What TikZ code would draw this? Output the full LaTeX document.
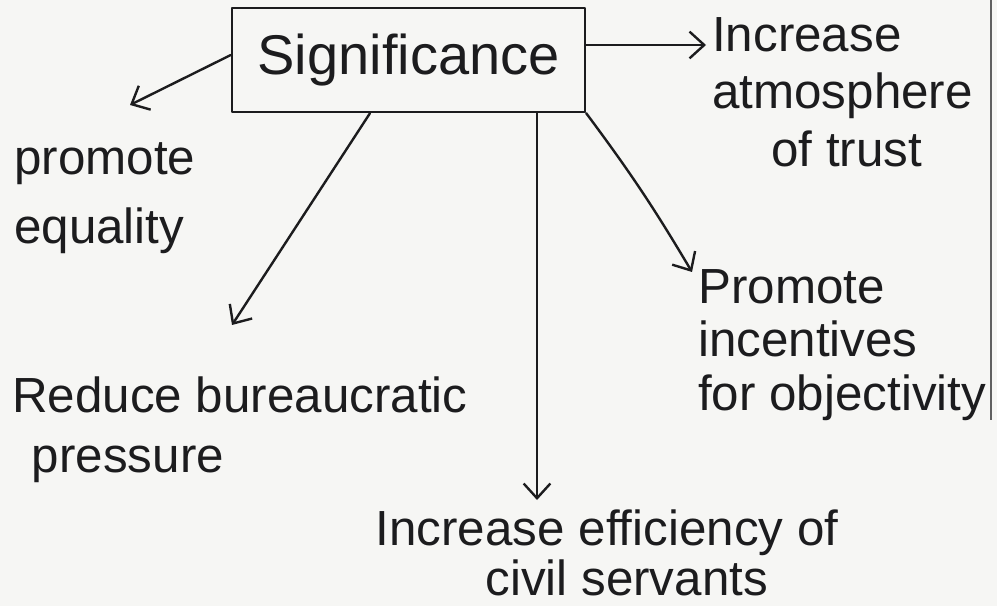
\documentclass[tikz,border=0pt]{standalone}
\usepackage{fontspec}
\setmainfont{Liberation Sans}
\usetikzlibrary{arrows.meta}
\definecolor{ink}{HTML}{1C1C1E}
\definecolor{paper}{HTML}{F6F6F4}
\tikzset{
  pen/.style={draw=ink, line width=1.8pt, line cap=round, line join=round},
  link/.style={pen, -{Straight Barb[length=11pt, width=20pt, line width=1.8pt]}},
  hand/.style={text=ink, inner sep=0pt, align=left},
  lead/.style={font=\fontsize{37}{#1}\selectfont},
  title/.style={pen, text=ink, font=\fontsize{42}{48}\selectfont,
    minimum width=264.75pt, minimum height=78pt, inner sep=0pt}
}
\begin{document}
\begin{tikzpicture}[x=0.75pt, y=-0.75pt]
  % page
  \fill[paper] (0,0) rectangle (997,606);
  \useasboundingbox (0,0) rectangle (997,606);
  \draw[ink!70, line width=1pt] (991,0) -- (991,420);

  % central box
  \node[title] (sig) at (408.5,60) {Significance};

  % outcome labels
  \node[hand, lead=52pt, anchor=west] (eq) at (14,198) {promote\\equality};
  \node[hand, lead=43pt, anchor=west] (trust) at (712,92) {Increase\\atmosphere\\\hspace*{1.2em}of trust};
  \node[hand, lead=40pt, anchor=west] (obj) at (698,345) {Promote\\incentives\\for objectivity};
  \node[hand, lead=45pt, anchor=west] (bur) at (12,430) {Reduce bureaucratic\\\hspace*{0.4em}pressure};
  \node[hand, lead=37pt, align=center] (eff) at (607,553) {Increase efficiency of\\\hspace*{0.8em}civil servants};

  % arrow tips
  \coordinate (tEq) at (130,105);
  \coordinate (tTrust) at (706,45);
  \coordinate (tBur) at (232,325);
  \coordinate (tEff) at (537,500);
  \coordinate (tObj) at (692,272);

  % connectors
  \draw[link] (sig.west |- 0,55) -- (tEq);
  \draw[link] (sig.east |- 0,45) -- (tTrust);
  \draw[link] (sig.south -| 370,0) -- (tBur);
  \draw[link] (sig.south -| 537,0) -- (tEff);
  \draw[link] (sig.south east) to[bend left=3] (tObj);
\end{tikzpicture}
\end{document}
